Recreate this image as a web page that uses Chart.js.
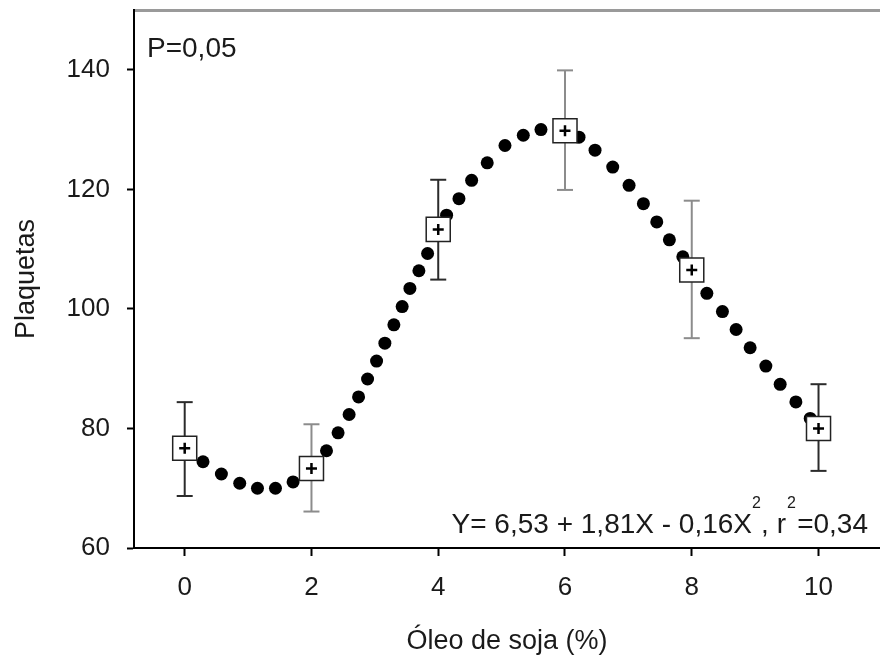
<!DOCTYPE html>
<html lang="pt">
<head>
    <meta charset="UTF-8">
    <title>Plaquetas x Óleo de soja</title>
    <style>
        body {
            margin: 0;
            background-color: #fff;
        }
        .chart-container {
            position: relative;
            width: 880px;
            height: 660px;
        }
    </style>
</head>
<body>
    <div class="chart-container">
        <canvas id="chartCanvas"></canvas>
    </div>
    <script src="https://cdn.jsdelivr.net/npm/chart.js"></script>
    <script>
        // ticks
        const xTicks = [0, 2, 4, 6, 8, 10];
        const yTicks = [60, 80, 100, 120, 140];

        // medias observadas com barras de erro
        const meanX = [0, 2, 4, 6, 8, 10];
        const meanY = [76.7, 73.3, 113.3, 129.8, 106.5, 80.0];
        const errLow = [68.7, 66.1, 104.9, 119.9, 95.1, 72.9];
        const errHigh = [84.4, 80.7, 121.6, 139.9, 118.1, 87.4];
        const errColor = ['#2b2b2b', '#8c8c8c', '#2b2b2b', '#8c8c8c', '#8c8c8c', '#2b2b2b'];

        // curva ajustada (pontos pretos)
        const curveX = [0.289, 0.579, 0.868, 1.148, 1.432, 1.710, 1.990, 2.237, 2.420, 2.594,
                        2.743, 2.885, 3.027, 3.158, 3.300, 3.431, 3.553, 3.695, 3.832, 3.979,
                        4.132, 4.327, 4.527, 4.773, 5.053, 5.342, 5.621, 5.920, 6.221, 6.474,
                        6.753, 7.011, 7.237, 7.448, 7.647, 7.859, 8.037, 8.238, 8.484, 8.700,
                        8.921, 9.169, 9.395, 9.643, 9.869];
        const curveY = [74.43, 72.38, 70.83, 70.0, 70.0, 71.05, 73.55, 76.27, 79.27, 82.33,
                        85.27, 88.27, 91.27, 94.27, 97.33, 100.38, 103.43, 106.38, 109.27, 112.47,
                        115.67, 118.43, 121.5, 124.43, 127.33, 129.05, 130.0, 129.7, 128.72, 126.55,
                        123.72, 120.67, 117.6, 114.55, 111.55, 108.72, 105.72, 102.6, 99.55, 96.55,
                        93.5, 90.43, 87.38, 84.43, 81.67];

        const FONT = '"Liberation Sans", Arial, sans-serif';

        const datasets = [];

        // cruz no centro de cada quadrado
        datasets.push({
            data: meanX.map((x, i) => ({ x: x, y: meanY[i] })),
            pointStyle: 'cross',
            pointRadius: 5.5,
            borderColor: '#000',
            borderWidth: 2.5,
            order: 0
        });

        // quadrados brancos
        datasets.push({
            data: meanX.map((x, i) => ({ x: x, y: meanY[i] })),
            pointStyle: 'rect',
            pointRadius: 17,
            backgroundColor: '#fff',
            borderColor: '#222',
            borderWidth: 1.5,
            order: 1
        });

        // curva pontilhada
        datasets.push({
            data: curveX.map((x, i) => ({ x: x, y: curveY[i] })),
            pointStyle: 'circle',
            pointRadius: 6.5,
            backgroundColor: '#000',
            borderWidth: 0,
            order: 2
        });

        // barras de erro: linha vertical + traços nas pontas
        meanX.forEach((x, i) => {
            datasets.push({
                data: [{ x: x, y: errLow[i] }, { x: x, y: errHigh[i] }],
                showLine: true,
                borderColor: errColor[i],
                borderWidth: 2,
                pointStyle: 'line',
                pointRadius: 8,
                pointBorderColor: errColor[i],
                pointBorderWidth: 2,
                order: 3
            });
        });

        // tamanho fixo dos eixos, sem folga extra dos rótulos
        function fixSize(w, h) {
            return s => {
                if (w !== null) s.width = w;
                if (h !== null) s.height = h;
                s.paddingTop = 0;
                s.paddingBottom = 0;
                s.paddingLeft = 0;
                s.paddingRight = 0;
            };
        }

        const textPlugin = {
            id: 'textos',
            afterDraw(chart) {
                const ctx = chart.ctx;
                const area = chart.chartArea;
                ctx.save();
                ctx.fillStyle = '#1a1a1a';
                ctx.textBaseline = 'alphabetic';

                ctx.font = '28px ' + FONT;
                ctx.textAlign = 'left';
                ctx.fillText('P=0,05', area.left + 13, area.top + 47);

                // equação, montada da direita para a esquerda
                const base = area.bottom - 15;
                const supBase = base - 25;
                const R = area.right - 12;
                ctx.textAlign = 'right';
                ctx.fillText('=0,34', R, base);
                ctx.fillText(', r', R - 82, base);
                ctx.fillText('Y= 6,53 + 1,81X - 0,16X', R - 116, base);
                ctx.font = '16px ' + FONT;
                ctx.textAlign = 'left';
                ctx.fillText('2', R - 81, supBase);
                ctx.fillText('2', R - 116, supBase);
                ctx.restore();
            }
        };

        const ctx = document.getElementById('chartCanvas').getContext('2d');
        new Chart(ctx, {
            type: 'scatter',
            data: { datasets },
            options: {
                responsive: true,
                maintainAspectRatio: false,
                animation: false,
                events: [],
                layout: { padding: 0, autoPadding: false },
                plugins: {
                    legend: { display: false },
                    tooltip: { enabled: false }
                },
                scales: {
                    x: {
                        type: 'linear',
                        position: 'bottom',
                        min: -0.8,
                        max: 10.97,
                        afterBuildTicks: s => { s.ticks = xTicks.map(v => ({ value: v })); },
                        afterFit: fixSize(null, 112),
                        ticks: {
                            color: '#1a1a1a',
                            padding: 16,
                            font: { family: FONT, size: 26 }
                        },
                        grid: {
                            drawOnChartArea: false,
                            drawTicks: true,
                            tickLength: 8,
                            tickColor: '#000',
                            tickWidth: 2
                        },
                        border: { display: true, color: '#000', width: 2 },
                        title: {
                            display: true,
                            text: 'Óleo de soja (%)',
                            color: '#1a1a1a',
                            padding: { top: 0, bottom: 2 },
                            font: { family: FONT, size: 27 }
                        }
                    },
                    xTop: {
                        type: 'linear',
                        position: 'top',
                        min: -0.8,
                        max: 10.97,
                        afterFit: fixSize(null, 10),
                        ticks: { display: false },
                        grid: { display: false },
                        border: { display: true, color: '#9a9a9a', width: 3 }
                    },
                    y: {
                        type: 'linear',
                        position: 'left',
                        min: 60,
                        max: 150,
                        afterBuildTicks: s => { s.ticks = yTicks.map(v => ({ value: v })); },
                        afterFit: fixSize(134, null),
                        ticks: {
                            color: '#1a1a1a',
                            padding: 17,
                            font: { family: FONT, size: 26 }
                        },
                        grid: {
                            drawOnChartArea: false,
                            drawTicks: true,
                            tickLength: 7,
                            tickColor: '#000',
                            tickWidth: 2
                        },
                        border: { display: true, color: '#000', width: 2 },
                        title: {
                            display: true,
                            text: 'Plaquetas',
                            color: '#1a1a1a',
                            padding: { top: 10, bottom: 0 },
                            font: { family: FONT, size: 27 }
                        }
                    }
                }
            },
            plugins: [textPlugin]
        });
    </script>
</body>
</html>
